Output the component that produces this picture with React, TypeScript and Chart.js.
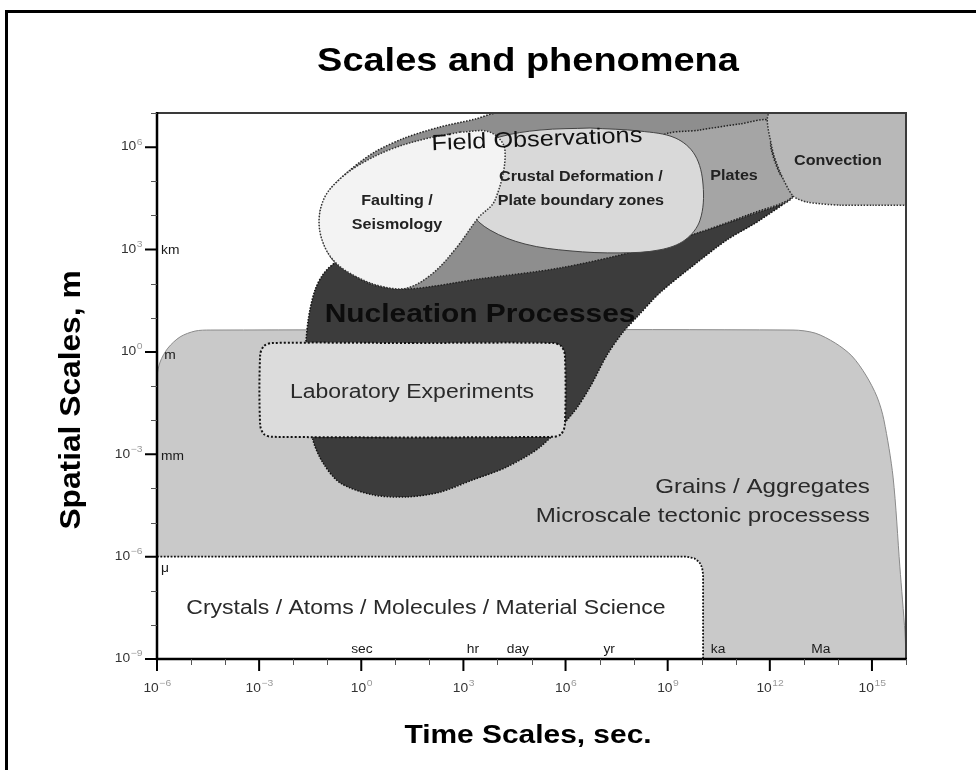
import React, { useEffect, useRef } from "react";
import { Chart, registerables } from "chart.js";
Chart.register(...registerables);

type P = { x: number; y: number };
const pts = (a: number[][]): P[] => a.map(([x, y]) => ({ x, y }));

// axes in log10 units: time (s) and length (m)
const xMin = -6, xMax = 16;
const yMin = -9, yMax = 7;
const xMajor = [-6, -3, 0, 3, 6, 9, 12, 15];
const xMajorExp = ["\u22126", "\u22123", "0", "3", "6", "9", "12", "15"];
const yMajor = [-9, -6, -3, 0, 3, 6];
const yMajorExp = ["\u22129", "\u22126", "\u22123", "0", "3", "6"];
const xMinor = [-5, -4, -2, -1, 1, 2, 4, 5, 7, 8, 10, 11, 13, 14, 16];
const yMinor = [-8, -7, -5, -4, -2, -1, 1, 2, 4, 5, 7];

// region outlines (log10 s, log10 m)
const grains = pts([[-6,-9],[-6,-0.77],[-5.91,-0.30],[-5.68,0.11],[-5.32,0.44],[-4.88,0.61],[-4.44,0.64],[12.68,0.64],[13.33,0.55],[13.92,0.26],[14.41,-0.12],[14.82,-0.68],[15.15,-1.32],[15.35,-1.99],[15.62,-3.67],[15.82,-6.30],[15.97,-8.24],[16,-9]]);
const crystals = pts([[-6,-6],[9.55,-6],[9.78,-6.05],[9.93,-6.16],[10.01,-6.32],[10.04,-6.52],[10.04,-9],[-6,-9]]);
const lab = pts([[1.5,0.26],[5.63,0.26],[5.87,0.17],[5.98,-0.09],[5.98,-2.14],[5.87,-2.41],[5.63,-2.49],[-2.62,-2.49],[-2.86,-2.41],[-2.97,-2.14],[-2.97,-0.09],[-2.86,0.17],[-2.62,0.26],[1.5,0.26]]);
const nucleation = pts([[5.84,3.28],[9.95,4.01],[12.59,4.54],[11.71,3.86],[10.74,3.28],[9.74,2.52],[8.77,1.73],[8.10,1.02],[7.69,0.58],[7.22,-0.09],[6.72,-1.03],[6.22,-1.79],[5.25,-2.79],[4.28,-3.37],[3.28,-3.75],[2.31,-4.11],[1.34,-4.25],[0.34,-4.19],[-0.62,-3.84],[-1.12,-3.26],[-1.42,-2.58],[-1.59,-1.41],[-1.65,-0.24],[-1.56,0.93],[-1.36,1.81],[-1.07,2.34],[-0.62,2.69],[1.14,3.13],[5.84,3.28]]);
const fieldObs = pts([[12.01,7.0],[12.06,6.0],[12.30,5.27],[12.68,4.54],[11.42,4.01],[9.95,3.51],[8.10,2.96],[5.84,2.46],[3.49,2.14],[1.34,1.84],[0.26,1.99],[-0.77,2.63],[-1.15,3.34],[-1.21,4.07],[-0.92,4.74],[-0.33,5.33],[0.40,5.86],[1.28,6.27],[2.31,6.59],[3.34,6.82],[3.99,7.0],[12.01,7.0]]);
const plates = pts([[8.48,4.45],[8.77,6.27],[9.95,6.50],[11.12,6.68],[12.01,6.77],[12.03,6.0],[12.27,5.27],[12.68,4.57],[11.42,4.04],[9.95,3.51],[8.10,2.96],[7.60,3.28],[8.48,4.45]]);
const crustal = pts([[6.72,6.56],[8.19,6.47],[9.22,6.27],[9.80,5.77],[10.04,4.89],[9.95,3.86],[9.51,3.28],[8.77,2.99],[7.60,2.90],[6.13,2.96],[4.81,3.16],[3.78,3.57],[3.19,4.10],[2.96,4.74],[2.99,5.48],[3.34,5.97],[4.07,6.30],[5.25,6.50],[6.72,6.56]]);
const faulting = pts([[2.90,6.44],[3.78,6.44],[4.22,5.92],[3.93,4.45],[3.43,3.92],[2.81,3.07],[2.11,2.31],[1.34,1.87],[0.55,1.93],[-0.18,2.22],[-0.77,2.63],[-1.12,3.19],[-1.24,3.86],[-1.07,4.54],[-0.62,5.07],[0.02,5.53],[0.90,5.95],[1.87,6.24],[2.90,6.44]]);
const convection = pts([[16,7],[12.01,7],[12.06,6.0],[12.30,5.27],[12.68,4.57],[13.09,4.39],[14.06,4.30],[15.03,4.30],[16,4.30]]);

const regionLabels = [
  { t: "Field Observations", x: 5.16, y: 6.21, size: 22, w: "normal", c: "#111", a: "center", r: -0.04 },
  { t: "Faulting /", x: 1.05, y: 4.42, size: 14, w: "bold", c: "#222", a: "center", r: 0 },
  { t: "Seismology", x: 1.05, y: 3.72, size: 14, w: "bold", c: "#222", a: "center", r: 0 },
  { t: "Crustal Deformation /", x: 6.45, y: 5.12, size: 14, w: "bold", c: "#222", a: "center", r: 0 },
  { t: "Plate boundary zones", x: 6.45, y: 4.42, size: 14, w: "bold", c: "#222", a: "center", r: 0 },
  { t: "Plates", x: 10.95, y: 5.15, size: 14, w: "bold", c: "#222", a: "center", r: 0 },
  { t: "Convection", x: 14.0, y: 5.59, size: 14, w: "bold", c: "#222", a: "center", r: 0 },
  { t: "Nucleation Processes", x: 3.49, y: 1.08, size: 26, w: "bold", c: "#0c0c0c", a: "center", r: 0 },
  { t: "Laboratory Experiments", x: 1.49, y: -1.18, size: 20, w: "normal", c: "#2a2a2a", a: "center", r: 0 },
  { t: "Grains / Aggregates", x: 14.94, y: -3.96, size: 21, w: "normal", c: "#2a2a2a", a: "right", r: 0 },
  { t: "Microscale tectonic processess", x: 14.94, y: -4.81, size: 21, w: "normal", c: "#2a2a2a", a: "right", r: 0 },
  { t: "Crystals / Atoms / Molecules / Material Science", x: 1.90, y: -7.51, size: 20, w: "normal", c: "#2a2a2a", a: "center", r: 0 },
];
const unitLabels = [
  { t: "km", x: -5.88, y: 2.96, a: "left" },
  { t: "m", x: -5.79, y: -0.12, a: "left" },
  { t: "mm", x: -5.88, y: -3.08, a: "left" },
  { t: "\u03bc", x: -5.88, y: -6.36, a: "left" },
  { t: "sec", x: 0.02, y: -8.74, a: "center" },
  { t: "hr", x: 3.28, y: -8.74, a: "center" },
  { t: "day", x: 4.60, y: -8.74, a: "center" },
  { t: "yr", x: 7.28, y: -8.74, a: "center" },
  { t: "ka", x: 10.48, y: -8.74, a: "center" },
  { t: "Ma", x: 13.50, y: -8.74, a: "center" },
];

const FONT = '"Liberation Sans", Arial, Helvetica, sans-serif';
const SX = 1.15;

function txt(ctx: CanvasRenderingContext2D, t: string, x: number, y: number, font: string, color: string, align: CanvasTextAlign, rot = 0, sx = SX, sy = 1) {
  ctx.save();
  ctx.translate(x, y);
  if (rot) ctx.rotate(rot);
  ctx.scale(sx, sy);
  ctx.font = font;
  ctx.fillStyle = color;
  ctx.textAlign = align;
  ctx.textBaseline = "middle";
  ctx.fillText(t, 0, 0);
  ctx.restore();
}

function pow10(ctx: CanvasRenderingContext2D, exp: string, x: number, y: number, align: "center" | "right") {
  ctx.save();
  ctx.font = `12px ${FONT}`;
  const w1 = ctx.measureText("10").width;
  ctx.font = `9px ${FONT}`;
  const w2 = ctx.measureText(exp).width;
  const total = (w1 + w2) * SX;
  const x0 = align === "center" ? x - total / 2 : x - total;
  ctx.translate(x0, y);
  ctx.scale(SX, 1);
  ctx.textAlign = "left";
  ctx.textBaseline = "middle";
  ctx.font = `12px ${FONT}`;
  ctx.fillStyle = "#333";
  ctx.fillText("10", 0, 0);
  ctx.font = `9px ${FONT}`;
  ctx.fillStyle = "#9a9a9a";
  ctx.fillText(exp, w1 + 0.5, -5);
  ctx.restore();
}

const decor = {
  id: "decor",
  beforeDraw(chart: any) {
    const ctx = chart.ctx as CanvasRenderingContext2D;
    ctx.save();
    ctx.fillStyle = "#000";
    ctx.fillRect(5, 10, 3, 770);
    ctx.fillRect(5, 10, 980, 3);
    ctx.restore();
  },
  afterDatasetsDraw(chart: any) {
    const ctx = chart.ctx as CanvasRenderingContext2D;
    const xs = chart.scales.x, ys = chart.scales.y;
    const X = (v: number) => xs.getPixelForValue(v);
    const Y = (v: number) => ys.getPixelForValue(v);
    const L = X(xMin), R = X(xMax), T = Y(yMax), B = Y(yMin);

    for (const l of regionLabels) {
      txt(ctx, l.t, X(l.x), Y(l.y), `${l.w} ${l.size}px ${FONT}`, l.c, l.a as CanvasTextAlign, l.r);
    }
    for (const u of unitLabels) {
      txt(ctx, u.t, X(u.x), Y(u.y), `12px ${FONT}`, "#1a1a1a", u.a as CanvasTextAlign);
    }

    ctx.save();
    ctx.strokeStyle = "#3a3a3a";
    ctx.lineWidth = 2;
    ctx.beginPath();
    ctx.moveTo(L, T); ctx.lineTo(R, T); ctx.lineTo(R, B);
    ctx.stroke();
    ctx.strokeStyle = "#000";
    ctx.lineWidth = 2.5;
    ctx.beginPath();
    ctx.moveTo(L, T - 1); ctx.lineTo(L, B); ctx.lineTo(R + 1, B);
    ctx.stroke();
    ctx.lineWidth = 2;
    ctx.beginPath();
    for (const v of xMajor) { const p = X(v); ctx.moveTo(p, B); ctx.lineTo(p, B + 12); }
    for (const v of yMajor) { const p = Y(v); ctx.moveTo(L, p); ctx.lineTo(L - 12, p); }
    ctx.stroke();
    ctx.strokeStyle = "#555";
    ctx.lineWidth = 1;
    ctx.beginPath();
    for (const v of xMinor) { const p = Math.round(X(v)) + 0.5; ctx.moveTo(p, B); ctx.lineTo(p, B + 6); }
    for (const v of yMinor) { const p = Math.round(Y(v)) + 0.5; ctx.moveTo(L, p); ctx.lineTo(L - 6, p); }
    ctx.stroke();
    ctx.restore();

    xMajor.forEach((v, i) => pow10(ctx, xMajorExp[i], X(v), B + 30, "center"));
    yMajor.forEach((v, i) => pow10(ctx, yMajorExp[i], L - 15, Y(v), "right"));

    txt(ctx, "Scales and phenomena", 528, 62, `bold 33px ${FONT}`, "#000", "center");
    txt(ctx, "Time Scales, sec.", 528, 736, `bold 26px ${FONT}`, "#000", "center");
    txt(ctx, "Spatial Scales, m", 72, 400, `bold 26px ${FONT}`, "#000", "center", -Math.PI / 2, 1.22, 1.1);
  },
};

function shape(data: P[], bg: string, border: string, bw: number, dash: number[], tension: number, order: number) {
  return {
    data,
    backgroundColor: bg,
    borderColor: border,
    borderWidth: bw,
    borderDash: dash,
    tension,
    fill: "shape",
    pointRadius: 0,
    pointHoverRadius: 0,
    order,
  };
}

export default function App() {
  const ref = useRef<HTMLCanvasElement>(null);
  useEffect(() => {
    if (!ref.current) return;
    const chart = new Chart(ref.current, {
      type: "line",
      data: {
        datasets: [
          shape(grains, "#c9c9c9", "#8a8a8a", 1, [], 0.3, 9),
          shape(crystals, "#ffffff", "#111", 1.8, [1.8, 1.6], 0, 8),
          shape(nucleation, "#3c3c3c", "#111", 1.5, [1.5, 1.5], 0.3, 7),
          shape(fieldObs, "#8e8e8e", "#222", 1.5, [1.5, 1.5], 0.3, 6),
          shape(plates, "#a5a5a5", "#222", 1.5, [1.5, 1.5], 0.3, 5),
          shape(crustal, "#d9d9d9", "#444", 1, [], 0.35, 4),
          shape(faulting, "#f3f3f3", "#333", 1.5, [1.5, 1.5], 0.35, 3),
          shape(convection, "#b8b8b8", "#333", 1.5, [1.5, 1.5], 0.25, 2),
          shape(lab, "#dcdcdc", "#111", 2, [2, 2], 0.3, 1),
        ] as any,
      },
      options: {
        animation: false,
        responsive: false,
        events: [],
        layout: { padding: { left: 157, top: 113, right: 70, bottom: 111 } },
        scales: {
          x: { type: "linear", min: xMin, max: xMax, display: false },
          y: { type: "linear", min: yMin, max: yMax, display: false },
        },
        plugins: { legend: { display: false }, tooltip: { enabled: false }, title: { display: false } },
      },
      plugins: [decor],
    });
    return () => chart.destroy();
  }, []);
  return (
    <div style={{ position: "absolute", left: 0, top: 0, width: 976, height: 770, background: "#fff" }}>
      <canvas ref={ref} width={976} height={770} style={{ display: "block" }} />
    </div>
  );
}
